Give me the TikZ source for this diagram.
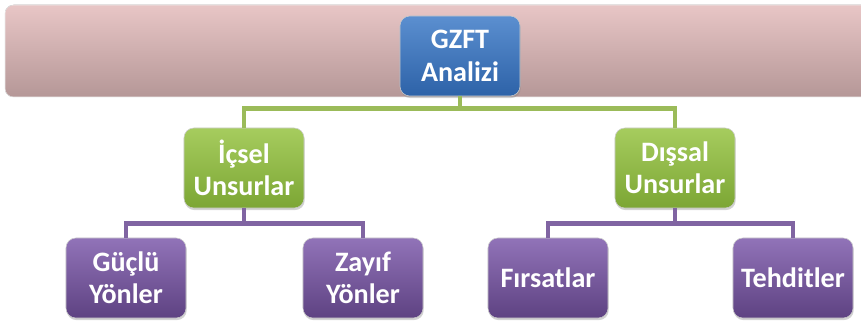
\documentclass[tikz,border=0pt]{standalone}
\usepackage{fontspec}
\newfontfamily\boxfont{Carlito}
\usepackage{tikz}
\usetikzlibrary{calc,shadows}

\definecolor{bannertop}{HTML}{E8C6C6}
\definecolor{bannerbot}{HTML}{B59797}
\definecolor{bluetop}{HTML}{5B8FD0}
\definecolor{bluebot}{HTML}{2D62A8}
\definecolor{greentop}{HTML}{A6CC5E}
\definecolor{greenbot}{HTML}{7CA634}
\definecolor{purpletop}{HTML}{9173B8}
\definecolor{purplebot}{HTML}{5E4282}
\definecolor{greenline}{HTML}{9BBB59}
\definecolor{purpleline}{HTML}{8064A2}

\tikzset{
  box/.style={rounded corners=7pt, minimum width=3cm, minimum height=2cm,
    align=center, text=white, font=\boxfont\bfseries\fontsize{20}{23}\selectfont,
    draw=white!60!gray, line width=0.4pt,
    drop shadow={shadow xshift=0.5pt, shadow yshift=-1.5pt, opacity=0.35}},
  bluebox/.style={box, top color=bluetop, bottom color=bluebot},
  greenbox/.style={box, top color=greentop, bottom color=greenbot},
  purplebox/.style={box, top color=purpletop, bottom color=purplebot},
  link/.style={line width=3.5pt},
}

\begin{document}
\begin{tikzpicture}[x=0.025cm,y=-0.025cm]
\useasboundingbox (0,0) rectangle (861,328);
\fill[top color=bannertop, bottom color=bannerbot, rounded corners=6pt]
  (5,5) rectangle (875,97);
\draw[white!85!gray, rounded corners=6pt] (5,5) rectangle (875,97);

\node[bluebox] (gzft) at (460,56) {GZFT\\Analizi};
\node[greenbox] (icsel) at (244,168) {İçsel\\Unsurlar};
\node[greenbox] (dissal) at (675,168) {Dışsal\\Unsurlar};
\node[purplebox] (guclu) at (126,278) {Güçlü\\Yönler};
\node[purplebox] (zayif) at (363,278) {Zayıf\\Yönler};
\node[purplebox] (firsat) at (548,278) {Fırsatlar};
\node[purplebox] (tehdit) at (793,278) {Tehditler};

\draw[link, greenline] (gzft.south) -- ++(0,12) -| (icsel.north);
\draw[link, greenline] (gzft.south) -- ++(0,12) -| (dissal.north);
\draw[link, purpleline] (icsel.south) -- ++(0,15) -| (guclu.north);
\draw[link, purpleline] (icsel.south) -- ++(0,15) -| (zayif.north);
\draw[link, purpleline] (dissal.south) -- ++(0,15) -| (firsat.north);
\draw[link, purpleline] (dissal.south) -- ++(0,15) -| (tehdit.north);
\end{tikzpicture}
\end{document}
